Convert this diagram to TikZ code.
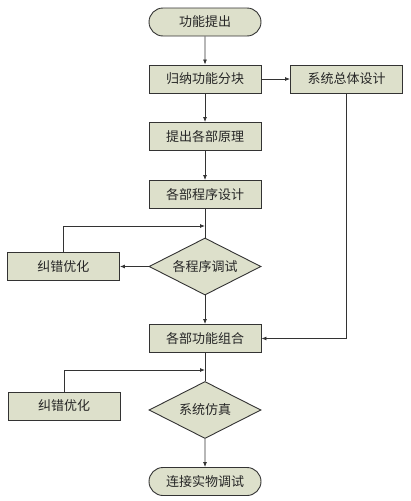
\documentclass[tikz,border=0pt]{standalone}
\usepackage{fontspec}
\newfontfamily\cjk{Noto Sans CJK SC}
\usetikzlibrary{shapes.geometric,shapes.misc,arrows.meta}
\definecolor{boxfill}{HTML}{DDE0CB}
\definecolor{boxline}{HTML}{333333}
\tikzset{
  x=1pt,y=-1pt,
  base/.style={draw=boxline,fill=boxfill,line width=0.9pt,font=\cjk\fontsize{13}{15}\selectfont,text=black!85,inner sep=0pt},
  proc/.style={base,rectangle,minimum width=112pt,minimum height=28pt},
  term/.style={base,rounded rectangle,minimum width=112pt,minimum height=28pt},
  dec/.style={base,diamond,aspect=2,minimum width=112pt,minimum height=57pt},
  flow/.style={draw=boxline,line width=0.8pt,-{Latex[length=5pt,width=4pt]}},
  plain/.style={draw=boxline,line width=0.8pt}
}
\begin{document}
\begin{tikzpicture}
\useasboundingbox (0,0) rectangle (410,501);
\node[term] (a) at (205,22) {功能提出};
\node[proc] (b) at (205,79) {归纳功能分块};
\node[proc] (s) at (346.5,79) {系统总体设计};
\node[proc] (c) at (205,136.5) {提出各部原理};
\node[proc] (d) at (205,194.5) {各部程序设计};
\node[dec] (e) at (205,266.5) {各程序调试};
\node[proc] (f1) at (63.5,266.5) {纠错优化};
\node[proc] (g) at (205,338.5) {各部功能组合};
\node[dec] (h) at (205,410) {系统仿真};
\node[proc] (f2) at (64,406) {纠错优化};
\node[term] (k) at (205,481.5) {连接实物调试};
\coordinate (j1) at (205,226);
\coordinate (j2) at (205,370);
\path[flow] (a) -- (b);
\path[flow] (b) -- (s);
\path[flow] (b) -- (c);
\path[flow] (c) -- (d);
\path[plain] (d) -- (e);
\path[flow] (f1.north) |- (j1);
\path[flow] (e) -- (f1);
\path[flow] (e) -- (g);
\path[flow] (s.south) |- (g.east);
\path[plain] (g) -- (h);
\path[flow] (f2.north) |- (j2);
\path[flow] (h) -- (k);
\end{tikzpicture}
\end{document}
